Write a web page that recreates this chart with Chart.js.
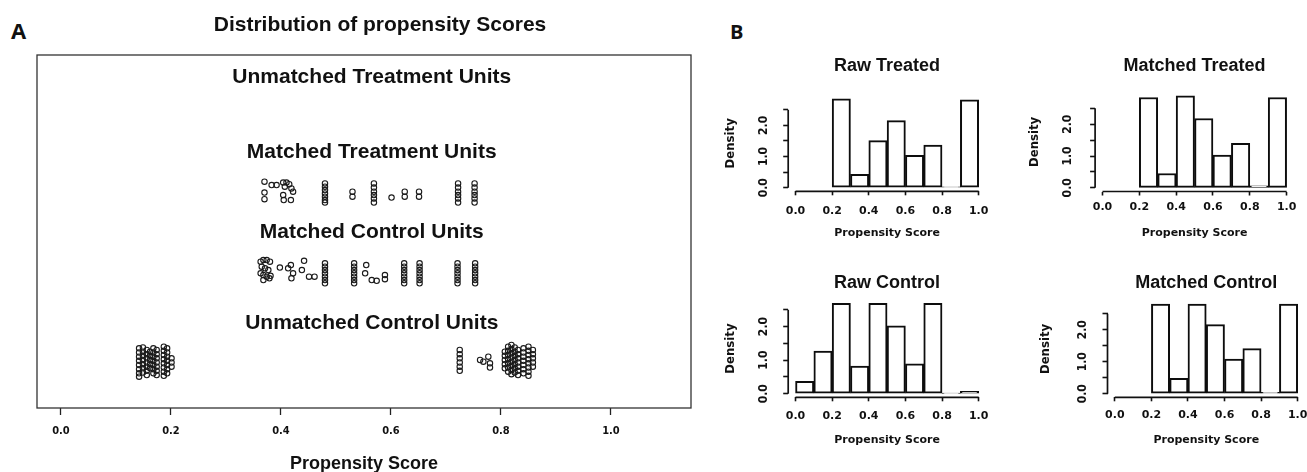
<!DOCTYPE html>
<html>
<head>
<meta charset="utf-8">
<script src="https://cdn.jsdelivr.net/npm/chart.js@4.4.1/dist/chart.umd.min.js"></script>
<style>
html,body{margin:0;padding:0;background:#fff;overflow:hidden;width:1307px;height:472px;position:relative;}
.lbl{position:absolute;font-family:'Open Sans',sans-serif;font-weight:700;color:#111;line-height:1;white-space:nowrap;}
</style>
</head>
<body>
<div class="lbl" style="left:11px;top:19px;font-size:22px;">A</div>
<div class="lbl" style="left:730px;top:22px;font-size:20px;">B</div>
<script>
// ---------------- Panel A data ----------------
const xTickValues = [0, 0.2, 0.4, 0.6, 0.8, 1.0];
const xTickLabels = ['0.0', '0.2', '0.4', '0.6', '0.8', '1.0'];
const panelATitle = 'Distribution of propensity Scores';
const groupNames = ['Unmatched Treatment Units', 'Matched Treatment Units', 'Matched Control Units', 'Unmatched Control Units'];

const matchedTreatedX = [
  0.370,0.383,0.392,0.404,0.410,0.415,0.407,0.419,0.422,0.370,0.370,0.404,0.405,0.418,
  0.480,0.480,0.480,0.480,0.480,0.480,0.480,
  0.530,0.530,
  0.569,0.569,0.569,0.569,0.569,0.569,
  0.601,
  0.625,0.625,
  0.651,0.651,
  0.722,0.722,0.722,0.722,0.722,0.722,
  0.752,0.752,0.752,0.752,0.752,0.752
];
const matchedTreatedY = [
  3.14,3.10,3.10,3.13,3.13,3.11,3.08,3.06,3.02,3.01,2.93,2.98,2.92,2.92,
  3.12,3.08,3.04,3.00,2.96,2.92,2.89,
  3.02,2.96,
  3.12,3.07,3.02,2.98,2.94,2.89,
  2.95,
  3.02,2.96,
  3.02,2.96,
  3.12,3.07,3.02,2.98,2.94,2.89,
  3.12,3.07,3.02,2.98,2.94,2.89
];

const matchedControlX = [
  0.363,0.368,0.374,0.380,0.365,0.371,0.377,0.363,0.368,0.374,0.381,0.368,0.379,
  0.398,0.413,0.418,0.422,0.419,0.438,0.442,0.451,0.461,
  0.480,0.480,0.480,0.480,0.480,0.480,0.480,
  0.533,0.533,0.533,0.533,0.533,0.533,0.533,
  0.555,0.553,0.565,0.574,0.589,0.589,
  0.624,0.624,0.624,0.624,0.624,0.624,0.624,
  0.652,0.652,0.652,0.652,0.652,0.652,0.652,
  0.721,0.721,0.721,0.721,0.721,0.721,0.721,
  0.753,0.753,0.753,0.753,0.753,0.753,0.753
];
const matchedControlY = [
  2.18,2.20,2.20,2.18,2.12,2.10,2.08,2.04,2.02,2.00,2.01,1.96,1.98,
  2.11,2.10,2.14,2.04,1.98,2.08,2.19,2.00,2.00,
  2.16,2.12,2.08,2.04,2.00,1.96,1.92,
  2.16,2.12,2.08,2.04,2.00,1.96,1.92,
  2.14,2.04,1.96,1.95,2.02,1.97,
  2.16,2.12,2.08,2.04,2.00,1.96,1.92,
  2.16,2.12,2.08,2.04,2.00,1.96,1.92,
  2.16,2.12,2.08,2.04,2.00,1.96,1.92,
  2.16,2.12,2.08,2.04,2.00,1.96,1.92
];

const unmatchedControlX = [
  0.142,0.142,0.142,0.142,0.142,0.142,0.142,0.142,
  0.149,0.149,0.149,0.149,0.149,0.149,0.149,
  0.156,0.156,0.156,0.156,0.156,0.156,0.156,
  0.162,0.162,0.162,0.162,0.162,
  0.168,0.168,0.168,0.168,0.168,0.168,0.168,
  0.174,0.174,0.174,0.174,0.174,0.174,0.174,
  0.187,0.187,0.187,0.187,0.187,0.187,0.187,0.187,
  0.193,0.193,0.193,0.193,0.193,0.193,0.193,
  0.201,0.201,0.201,
  0.725,0.725,0.725,0.725,0.725,0.725,
  0.762,0.768,0.777,0.780,0.780,
  0.807,0.807,0.807,0.807,0.807,
  0.813,0.813,0.813,0.813,0.813,0.813,0.813,
  0.819,0.819,0.819,0.819,0.819,0.819,0.819,0.819,
  0.825,0.825,0.825,0.825,0.825,0.825,0.825,
  0.831,0.831,0.831,0.831,0.831,0.831,0.831,
  0.841,0.841,0.841,0.841,0.841,0.841,0.841,
  0.850,0.850,0.850,0.850,0.850,0.850,0.850,0.850,
  0.858,0.858,0.858,0.858,0.858
];
const unmatchedControlY = [
  1.14,1.09,1.04,0.99,0.94,0.89,0.84,0.80,
  1.15,1.10,1.05,1.00,0.95,0.90,0.85,
  1.12,1.07,1.02,0.97,0.92,0.87,0.82,
  1.10,1.05,1.00,0.95,0.90,
  1.14,1.09,1.04,0.99,0.94,0.89,0.84,
  1.12,1.07,1.02,0.97,0.92,0.87,0.82,
  1.16,1.11,1.06,1.01,0.96,0.91,0.86,0.81,
  1.14,1.09,1.04,0.99,0.94,0.89,0.84,
  1.02,0.97,0.92,
  1.12,1.07,1.02,0.97,0.92,0.87,
  1.00,0.98,1.04,0.96,0.91,
  1.10,1.05,1.00,0.95,0.90,
  1.16,1.11,1.06,1.01,0.96,0.91,0.86,
  1.18,1.13,1.08,1.03,0.98,0.93,0.88,0.83,
  1.15,1.10,1.05,1.00,0.95,0.90,0.85,
  1.12,1.07,1.02,0.97,0.92,0.87,0.82,
  1.14,1.09,1.04,0.99,0.94,0.89,0.84,
  1.16,1.11,1.06,1.01,0.96,0.91,0.86,0.81,
  1.12,1.07,1.02,0.97,0.92
];

// ---------------- Panel B data ----------------
const binCenters = [0.05, 0.15, 0.25, 0.35, 0.45, 0.55, 0.65, 0.75, 0.85, 0.95];
const rawTreated     = [null, null, 2.85, 0.43, 1.51, 2.15, 1.04, 1.37, 0.03, 2.82];
const matchedTreated = [null, null, 2.84, 0.45, 2.89, 2.18, 1.03, 1.40, 0.06, 2.84];
const rawControl     = [0.37, 1.27, 2.69, 0.82, 2.69, 2.02, 0.89, 2.69, 0.01, 0.07];
const matchedControl = [null, null, 2.80, 0.48, 2.80, 2.16, 1.08, 1.41, 0.04, 2.80];
const histTitles = ['Raw Treated', 'Matched Treated', 'Raw Control', 'Matched Control'];
const histYTicks = [0, 0.5, 1.0, 1.5, 2.0, 2.5];
const histYTickLabels = ['0.0', '', '1.0', '', '2.0', ''];
const histXTitle = 'Propensity Score';
const histYTitle = 'Density';

// ---------------- plugins ----------------
const boxPlugin = {
  id: 'boxFrame',
  afterDraw(chart) {
    const {ctx, chartArea: a} = chart;
    ctx.save();
    ctx.strokeStyle = '#333';
    ctx.lineWidth = 1.3;
    ctx.strokeRect(a.left, a.top, a.right - a.left, a.bottom - a.top);
    ctx.restore();
  }
};
const groupLabelPlugin = {
  id: 'groupLabels',
  afterDatasetsDraw(chart, args, opts) {
    const ctx = chart.ctx, xs = chart.scales.x, ys = chart.scales.y;
    ctx.save();
    ctx.font = opts.font;
    ctx.fillStyle = '#111';
    ctx.textAlign = 'center';
    ctx.textBaseline = 'middle';
    opts.labels.forEach((t, i) => ctx.fillText(t, xs.getPixelForValue(opts.x), ys.getPixelForValue(opts.y[i])));
    ctx.restore();
  }
};
const rAxisPlugin = {
  id: 'rAxis',
  afterDraw(chart) {
    const ctx = chart.ctx, a = chart.chartArea, xs = chart.scales.x, ys = chart.scales.y;
    const xt = xs.ticks, yt = ys.ticks;
    ctx.save();
    ctx.strokeStyle = '#111';
    ctx.lineWidth = 1.7;
    ctx.beginPath();
    ctx.moveTo(xs.getPixelForValue(xt[0].value), a.bottom);
    ctx.lineTo(xs.getPixelForValue(xt[xt.length - 1].value), a.bottom);
    ctx.moveTo(a.left, ys.getPixelForValue(yt[0].value));
    ctx.lineTo(a.left, ys.getPixelForValue(yt[yt.length - 1].value));
    ctx.stroke();
    ctx.restore();
  }
};

function addCanvas(left, top, w, h) {
  const c = document.createElement('canvas');
  c.width = Math.round(w); c.height = Math.round(h);
  c.style.cssText = `position:absolute;left:${Math.round(left)}px;top:${Math.round(top)}px;`;
  document.body.appendChild(c);
  return c;
}

const NARROW = "'Liberation Sans Narrow','DejaVu Sans Condensed','Liberation Sans',sans-serif";
const ARIAL = "'Liberation Sans',Arial,sans-serif";
const DEJAVU = "'DejaVu Sans',sans-serif";

// ---------------- Panel A chart ----------------
(function () {
  const c = addCanvas(0, 0, 723, 475);
  const mk = (xs, ys) => xs.map((x, i) => ({x: x, y: ys[i]}));
  const ptStyle = {pointStyle: 'circle', pointRadius: 2.7, pointBorderWidth: 1.1, borderColor: '#1a1a1a', backgroundColor: 'rgba(0,0,0,0)', showLine: false};
  new Chart(c, {
    type: 'scatter',
    data: {datasets: [
      Object.assign({label: groupNames[1], data: mk(matchedTreatedX, matchedTreatedY)}, ptStyle),
      Object.assign({label: groupNames[2], data: mk(matchedControlX, matchedControlY)}, ptStyle),
      Object.assign({label: groupNames[3], data: mk(unmatchedControlX, unmatchedControlY)}, ptStyle)
    ]},
    options: {
      responsive: false, animation: false, devicePixelRatio: 1,
      layout: {padding: {left: 37, right: 0, top: 0, bottom: 0}},
      plugins: {
        legend: {display: false}, tooltip: {enabled: false},
        title: {display: true, text: panelATitle, color: '#111', font: {family: ARIAL, size: 21, weight: 'bold'}, padding: {top: 12.4, bottom: 17.4}},
        groupLabels: {labels: groupNames, x: 0.565, y: [4.39, 3.49, 2.53, 1.44], font: "bold 21px " + ARIAL}
      },
      scales: {
        x: {
          type: 'linear', min: -0.0436, max: 1.1455,
          afterBuildTicks: s => { s.ticks = xTickValues.map(v => ({value: v})); },
          afterFit: s => { s.height = 67; },
          border: {display: false},
          grid: {display: true, drawOnChartArea: false, drawTicks: true, tickLength: 7, tickColor: '#222', tickWidth: 1.3},
          ticks: {autoSkip: false, maxRotation: 0, padding: 10, color: '#111', font: {family: NARROW, size: 11, weight: 'bold'}, callback: (v, i) => xTickLabels[i]},
          title: {display: true, text: histXTitle, color: '#111', font: {family: ARIAL, size: 18, weight: 'bold'}, padding: 0}
        },
        y: {
          type: 'linear', position: 'right', min: 0.424, max: 4.661,
          afterFit: s => { s.width = 32; },
          border: {display: false}, grid: {display: false}, ticks: {display: false}
        }
      }
    },
    plugins: [boxPlugin, groupLabelPlugin]
  });
})();

// ---------------- Panel B charts ----------------
function histChart(p) {
  const maxV = Math.max(...p.values.filter(v => v != null));
  const ymin = -0.04 * maxV, ymax = 1.04 * maxV;
  const yw = p.dOff + 7.8;
  const pr = 12;
  const titleLH = 18 * 1.2;
  const cx = p.L - yw, cy = p.titleY - titleLH / 2;
  const cw = p.R + pr - cx, ch = p.B + p.xh - cy;
  const c = addCanvas(cx, cy, cw, ch);
  new Chart(c, {
    type: 'bar',
    data: {datasets: [{
      label: p.title,
      data: binCenters.map((b, i) => ({x: b, y: p.values[i]})),
      backgroundColor: '#ffffff', borderColor: '#0d0d0d', borderWidth: 2, borderSkipped: false,
      categoryPercentage: 1, barPercentage: 1
    }]},
    options: {
      responsive: false, animation: false, devicePixelRatio: 1,
      layout: {padding: {left: 0, right: pr, top: 0, bottom: 0}},
      plugins: {
        legend: {display: false}, tooltip: {enabled: false},
        title: {display: true, text: p.title, fullSize: false, color: '#111', font: {family: ARIAL, size: 18, weight: 'bold'}, padding: {top: 0, bottom: p.T - cy - titleLH}}
      },
      scales: {
        x: {
          type: 'linear', min: -0.04, max: 1.04, offset: false,
          afterBuildTicks: s => { s.ticks = xTickValues.map(v => ({value: v})); },
          afterFit: s => { s.height = p.xh; },
          border: {display: false},
          grid: {display: true, offset: false, drawOnChartArea: false, drawTicks: true, tickLength: 4, tickColor: '#111', tickWidth: 1.6},
          ticks: {autoSkip: false, maxRotation: 0, padding: p.xpad, color: '#111', font: {family: DEJAVU, size: 11, weight: 'bold'}, callback: (v, i) => xTickLabels[i]},
          title: {display: true, text: histXTitle, color: '#111', font: {family: DEJAVU, size: 11, weight: 'bold'}, padding: 0}
        },
        y: {
          type: 'linear', min: ymin, max: ymax,
          afterBuildTicks: s => { s.ticks = histYTicks.map(v => ({value: v})); },
          afterFit: s => { s.width = yw; },
          border: {display: false},
          grid: {display: true, drawOnChartArea: false, drawTicks: true, tickLength: 5, tickColor: '#111', tickWidth: 1.6},
          ticks: {autoSkip: false, minRotation: 90, maxRotation: 90, crossAlign: 'center', padding: p.yOff - 5 - 9, color: '#111', font: {family: NARROW, size: 12, weight: 'bold'}, callback: (v, i) => histYTickLabels[i]},
          title: {display: true, text: histYTitle, color: '#111', font: {family: NARROW, size: 13, weight: 'bold'}, padding: 0}
        }
      }
    },
    plugins: [rAxisPlugin]
  });
}

histChart({title: histTitles[0], values: rawTreated,     L: 788.4,  R: 986.6,  T: 95.5,  B: 191.9, titleY: 66,  xpad: 9,   xh: 48.7, dOff: 57.4, yOff: 23.4});
histChart({title: histTitles[1], values: matchedTreated, L: 1095.3, R: 1294.1, T: 92.4,  B: 191.4, titleY: 66,  xpad: 4.7, xh: 48.5, dOff: 60.3, yOff: 26.3});
histChart({title: histTitles[2], values: rawControl,     L: 788.4,  R: 986.6,  T: 300.0, B: 397.6, titleY: 283, xpad: 7.8, xh: 49.7, dOff: 57.4, yOff: 23.4});
histChart({title: histTitles[3], values: matchedControl, L: 1107.7, R: 1305.0, T: 300.8, B: 397.6, titleY: 283, xpad: 6.8, xh: 49.7, dOff: 61.7, yOff: 23.7});
</script>
</body>
</html>
